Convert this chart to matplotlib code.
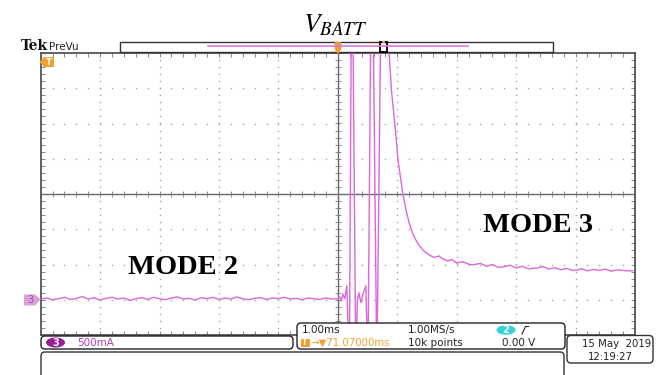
import numpy as np
import matplotlib
matplotlib.use("Agg")
import matplotlib.pyplot as plt
from matplotlib.patches import Rectangle, FancyBboxPatch, Ellipse, Polygon
from matplotlib.ticker import MultipleLocator

plt.rcParams['mathtext.fontset'] = 'stix'

# ---------------- data (time in ms / divisions, current in divisions) ----------------
mode2_t = np.round(np.arange(-5.0, 0.001, 0.1), 2)
mode2_v = [-2.98, -2.95, -3.00, -2.97, -2.93, -2.99, -2.96, -2.91, -2.98, -2.94,
           -3.01, -2.96, -2.93, -2.98, -2.95, -3.02, -2.97, -2.94, -2.99, -2.93,
           -2.97, -3.00, -2.95, -2.92, -2.98, -2.96, -3.01, -2.94, -2.97, -2.93,
           -2.99, -2.95, -2.98, -2.92, -2.97, -3.00, -2.96, -2.94, -2.99, -2.95,
           -2.97, -2.93, -2.98, -2.96, -3.00, -2.95, -2.97, -2.99, -2.95, -2.98, -2.97]

burst_t = [0.034, 0.060, 0.084, 0.118, 0.151, 0.193, 0.227, 0.252, 0.303, 0.328,
           0.353, 0.387, 0.420, 0.471, 0.505, 0.555, 0.594, 0.656, 0.723]
burst_v = [-2.92, -3.04, -2.84, -2.97, -2.61, -5.0, 5.0, 5.0, -5.0, -3.05,
           -2.80, -3.08, -2.85, -2.61, -5.0, 5.0, 5.0, -5.0, 5.0]

mode3_t = [0.863, 0.903, 0.959, 1.014, 1.060, 1.098, 1.156, 1.20, 1.262, 1.32, 1.379,
           1.45, 1.548, 1.62, 1.70, 1.766, 1.85, 1.92, 2.0, 2.1, 2.2,
           2.27, 2.4, 2.5, 2.6, 2.7, 2.775, 2.9, 3.0, 3.1, 3.2,
           3.35, 3.45, 3.55, 3.65, 3.75, 3.85, 3.95, 4.02, 4.1, 4.2,
           4.3, 4.4, 4.5, 4.6, 4.7, 4.8, 4.9, 4.96]
mode3_v = [3.97, 2.92, 1.99, 0.94, 0.40, -0.03, -0.52, -0.82, -1.13, -1.33, -1.48,
           -1.62, -1.74, -1.80, -1.76, -1.84, -1.90, -1.86, -1.96, -1.92, -1.99,
           -2.01, -1.97, -2.05, -2.00, -2.08, -2.07, -2.02, -2.10, -2.05, -2.12,
           -2.10, -2.06, -2.13, -2.09, -2.15, -2.11, -2.17, -2.16, -2.12, -2.18,
           -2.14, -2.17, -2.13, -2.19, -2.15, -2.17, -2.18, -2.18]

title_text = r'$V_{BATT}$'
mode_labels = ['MODE 2', 'MODE 3']
ch_scale = '500mA'
time_scale = '1.00ms'
trig_pos = '\u2192\u25BC71.07000ms'
sample_rate = '1.00MS/s'
rec_len = '10k points'
trig_level = '0.00 V'
date_str = '15 May  2019'
time_str = '12:19:27'

TRACE = '#DD66DD'
ORANGE = '#F0A030'

# ---------------- figure ----------------
W, H = 670, 375
fig = plt.figure(figsize=(W / 100, H / 100), dpi=100)
fig.patch.set_facecolor('white')

L, R, T, B = 40.7, 635.0, 53.0, 335.0
ax = fig.add_axes([L / W, 1 - B / H, (R - L) / W, (B - T) / H])
ax.set_xlim(-5, 5)
ax.set_ylim(-4, 4)
for s in ax.spines.values():
    s.set_color('#555555')
    s.set_linewidth(1.3)
ax.xaxis.set_major_locator(MultipleLocator(1))
ax.xaxis.set_minor_locator(MultipleLocator(0.2))
ax.yaxis.set_major_locator(MultipleLocator(1))
ax.yaxis.set_minor_locator(MultipleLocator(0.2))
ax.tick_params(which='both', direction='in', length=3, width=0.6, color='#777777',
               top=True, right=True, labelbottom=False, labelleft=False)

# dotted graticule
yy = np.arange(-4, 4.001, 0.2)
xx = np.arange(-5, 5.001, 0.2)
for gx in range(-4, 5):
    if gx != 0:
        ax.plot(np.full_like(yy, gx), yy, ls='none', marker='s', ms=1.0,
                mec='none', mfc='#a5a5a5', zorder=1)
for gy in range(-3, 4):
    if gy != 0:
        ax.plot(xx, np.full_like(xx, gy), ls='none', marker='s', ms=1.0,
                mec='none', mfc='#a5a5a5', zorder=1)
ax.axhline(0, color='#666666', lw=1.0, zorder=1)
ax.axvline(0, color='#666666', lw=1.0, zorder=1)
ax.vlines(xx, -0.09, 0.09, color='#777777', lw=0.6, zorder=1)
ax.hlines(yy, -0.055, 0.055, color='#777777', lw=0.6, zorder=1)

# trace
t_all = np.concatenate([mode2_t, burst_t, mode3_t])
v_all = np.concatenate([mode2_v, burst_v, mode3_v])
ax.plot(t_all, v_all, color=TRACE, lw=1.0, zorder=3)

# ---------------- overlay (pixel coordinates) ----------------
ov = fig.add_axes([0, 0, 1, 1], zorder=5)
ov.set_xlim(0, W)
ov.set_ylim(H, 0)
ov.axis('off')
ov.patch.set_alpha(0)

ov.text(335, 25, title_text, fontsize=19.5, ha='center', va='center', color='black')

ov.text(21, 50.5, 'Tek', fontsize=10, fontweight='bold', family='DejaVu Serif',
        color='#111111', va='baseline')
ov.text(49, 50, 'PreVu', fontsize=7.5, color='#222222', va='baseline')

# record bar
ov.add_patch(Rectangle((120, 41.5), 433, 10.5, fc='white', ec='#333333', lw=1.0))
ov.plot([208, 468], [46, 46], color='#DD77DD', lw=1.2)
ov.add_patch(FancyBboxPatch((334.5, 42), 7, 7.5, boxstyle='round,pad=0,rounding_size=1.5',
                            fc=ORANGE, ec='none'))
ov.add_patch(Polygon([(334.5, 49), (341.5, 49), (338, 54)], closed=True, fc=ORANGE, ec='none'))
ov.add_patch(Rectangle((380, 42), 7, 10, fc='none', ec='black', lw=1.3))
ov.add_patch(Ellipse((383.5, 42), 3, 2.5, fc=ORANGE, ec='none'))

# left markers
ov.add_patch(Polygon([(39.5, 62), (44, 57), (54, 57), (54, 67), (44, 67)],
                     closed=True, fc=ORANGE, ec='none'))
ov.text(49, 62.3, 'T', fontsize=6, fontweight='bold', color='white', ha='center', va='center')
ov.add_patch(Polygon([(24, 294.5), (35, 294.5), (40.5, 299.5), (35, 305.5), (24, 305.5)],
                     closed=True, fc='#D9A0D9', ec='none'))
ov.text(30, 300, '3', fontsize=7, color='#9A509A', ha='center', va='center')

# mode labels
ov.text(183, 268, mode_labels[0], fontsize=20.5, fontweight='bold', family='Liberation Serif',
        ha='center', va='center', color='black')
ov.text(538, 225, mode_labels[1], fontsize=20.5, fontweight='bold', family='Liberation Serif',
        ha='center', va='center', color='black')

# bottom boxes
ov.add_patch(FancyBboxPatch((41, 352), 523, 40, boxstyle='round,pad=0,rounding_size=4',
                            fc='white', ec='#333333', lw=1.0))
ov.add_patch(FancyBboxPatch((41, 336), 252, 13, boxstyle='round,pad=0,rounding_size=4',
                            fc='white', ec='#222222', lw=1.0))
ov.add_patch(Ellipse((55.5, 342.5), 19, 10, fc='#9B1B9B', ec='none'))
ov.text(55.5, 342.8, '3', fontsize=7, fontweight='bold', color='white', ha='center', va='center')
ov.text(77.5, 342.8, ch_scale, fontsize=7.5, color='#B03CB0', ha='left', va='center')

ov.add_patch(FancyBboxPatch((297, 323), 268, 26, boxstyle='round,pad=0,rounding_size=4',
                            fc='white', ec='#222222', lw=1.0))
ov.text(301.5, 330.3, time_scale, fontsize=7.5, color='#222222', ha='left', va='center')
ov.text(408, 330.3, sample_rate, fontsize=7.5, color='#222222', ha='left', va='center')
ov.add_patch(Ellipse((506, 330), 19, 9.5, fc='#33D1D8', ec='none'))
ov.text(506, 330.3, '2', fontsize=7, fontweight='bold', color='white', ha='center', va='center')
ov.plot([522, 525.5, 528.5], [334, 326.5, 326.5], color='#222222', lw=0.8)
ov.add_patch(Rectangle((300.5, 338.5), 9, 8.5, fc=ORANGE, ec='none'))
ov.text(305, 342.9, 'T', fontsize=5.5, fontweight='bold', color='white', ha='center', va='center')
ov.text(310.5, 342.9, trig_pos, fontsize=7.3, color=ORANGE, ha='left', va='center')
ov.text(408, 342.9, rec_len, fontsize=7.5, color='#222222', ha='left', va='center')
ov.text(502.5, 342.9, trig_level, fontsize=7.5, color='#222222', ha='left', va='center')

ov.add_patch(FancyBboxPatch((567, 335.5), 86, 27.5, boxstyle='round,pad=0,rounding_size=4',
                            fc='white', ec='#333333', lw=1.0))
ov.text(651, 344, date_str, fontsize=7.3, color='#222222', ha='right', va='center')
ov.text(588, 356.8, time_str, fontsize=7.3, color='#222222', ha='left', va='center')

fig.savefig('out.png', dpi=100)
